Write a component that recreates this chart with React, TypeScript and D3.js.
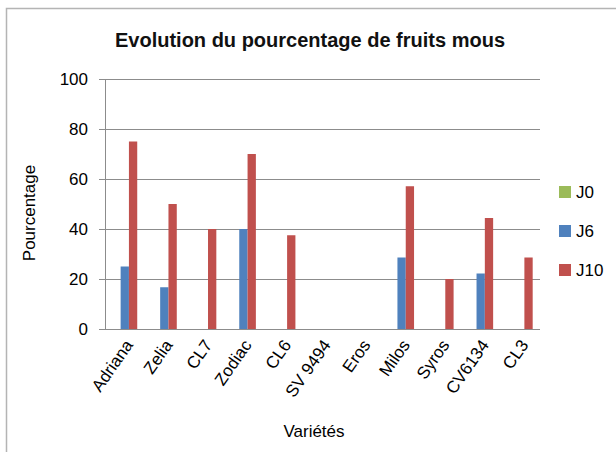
import React from 'react';
import * as d3 from 'd3';

const varietes = ['Adriana', 'Zelia', 'CL7', 'Zodiac', 'CL6', 'SV 9494', 'Eros', 'Milos', 'Syros', 'CV6134', 'CL3'];
const seriesNames = ['J0', 'J6', 'J10'];
const j0 = [0, 0, 0, 0, 0, 0, 0, 0, 0, 0, 0];
const j6 = [25, 16.7, 0, 40, 0, 0, 0, 28.6, 0, 22.2, 0];
const j10 = [75, 50, 40, 70, 37.5, 0, 0, 57.1, 20, 44.4, 28.6];
const yTicks = [0, 20, 40, 60, 80, 100];
const colors = ['#9bbb59', '#4f81bd', '#c0504d'];

const W = 616;
const H = 452;
const font = '"Liberation Sans", Arial, sans-serif';

const App = () => {
  const values = [j0, j6, j10];

  // plot area
  const x0 = d3.scaleBand().domain(varietes).range([105, 540]).paddingInner(0.37).paddingOuter(0.185);
  const x1 = d3.scaleBand().domain(seriesNames).range([0, x0.bandwidth()]);
  const y = d3.scaleLinear().domain([0, 100]).range([329, 79]);
  const [left, right] = x0.range();

  return (
    <svg width={W} height={H} style={{ position: 'absolute', left: 0, top: 0, background: '#fff' }}>
      <rect x={6.5} y={8.5} width={W + 10} height={H + 10} fill="#fff" stroke="#b4b4b4" strokeWidth={1.5} />

      <text x={310} y={47} textAnchor="middle" fontFamily={font} fontWeight="bold" fontSize={20} fill="#111">
        Evolution du pourcentage de fruits mous
      </text>

      {/* grid + y ticks */}
      {yTicks.map((t) => (
        <g key={t}>
          <line x1={left - 6} x2={right} y1={Math.round(y(t)) + 0.5} y2={Math.round(y(t)) + 0.5} stroke="#8c8c8c" strokeWidth={1} />
          <text x={88} y={y(t)} dy="0.36em" textAnchor="end" fontFamily={font} fontSize={17} fill="#000">
            {t}
          </text>
        </g>
      ))}
      <line x1={left + 0.5} x2={left + 0.5} y1={y(100)} y2={y(0)} stroke="#8c8c8c" />

      {/* bars */}
      {varietes.map((v, i) => (
        <g key={v} transform={`translate(${x0(v)},0)`}>
          {seriesNames.map((s, k) =>
            values[k][i] > 0 ? (
              <rect
                key={s}
                x={x1(s)}
                y={y(values[k][i])}
                width={x1.bandwidth()}
                height={y(0) - y(values[k][i])}
                fill={colors[k]}
              />
            ) : null
          )}
        </g>
      ))}

      {/* x labels */}
      {varietes.map((v) => {
        const cx = (x0(v) as number) + x0.bandwidth() / 2 + 9;
        return (
          <text
            key={v}
            transform={`translate(${cx},345) rotate(-55)`}
            textAnchor="end"
            fontFamily={font}
            fontSize={17}
            fill="#000"
          >
            {v}
          </text>
        );
      })}

      <text x={314} y={437} textAnchor="middle" fontFamily={font} fontSize={17} fill="#000">
        Variétés
      </text>
      <text transform="translate(35,213) rotate(-90)" textAnchor="middle" fontFamily={font} fontSize={17} fill="#000">
        Pourcentage
      </text>

      {/* legend */}
      {seriesNames.map((s, k) => (
        <g key={s} transform={`translate(559,${192 + k * 39})`}>
          <rect x={0} y={-6} width={12} height={12} fill={colors[k]} />
          <text x={17} y={0} dy="0.36em" fontFamily={font} fontSize={17} fill="#000">
            {s}
          </text>
        </g>
      ))}
    </svg>
  );
};

export default App;
